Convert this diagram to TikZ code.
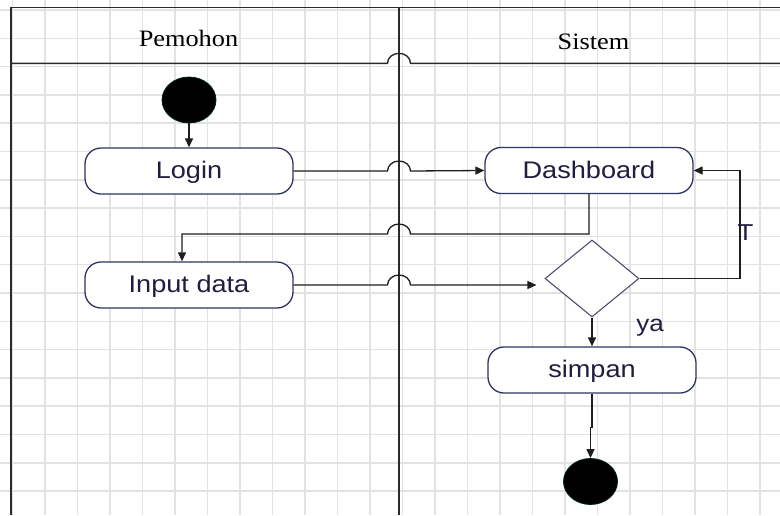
\documentclass[tikz,border=0pt]{standalone}
\usepackage{fontspec}
\setmainfont{Liberation Serif}
\newfontfamily\boxfont{Liberation Sans}[FakeStretch=1.13]
\newfontfamily\headfont{Liberation Serif}[FakeStretch=1.12]
\usetikzlibrary{arrows.meta,shapes.geometric}
\definecolor{gridc}{HTML}{E2E2E2}
\definecolor{framec}{HTML}{2A2A2A}
\definecolor{boxc}{HTML}{2E3563}
\definecolor{decc}{HTML}{4A5070}
\definecolor{linec}{HTML}{1E1E1E}
\definecolor{txtc}{HTML}{1E1E40}
\begin{document}
\begin{tikzpicture}[x=1pt,y=-1pt,
  frame/.style={draw=framec, line width=1.4pt},
  actbox/.style={draw=boxc, line width=1.3pt, rounded corners=16pt, minimum width=208pt,
    minimum height=46pt, inner sep=0pt, fill=white, text=txtc, text height=18pt, text depth=3pt,
    font=\boxfont\fontsize{24}{28}\selectfont},
  decbox/.style={shape=diamond, draw=decc, line width=1.1pt, fill=white,
    minimum width=94pt, minimum height=77pt, inner sep=0pt},
  blob/.style={shape=ellipse, fill=black, draw=black!75!teal, line width=0.8pt,
    minimum width=54pt, minimum height=46pt, inner sep=0pt},
  conn/.style={draw=linec, line width=1.3pt},
  arr/.style={conn, -{Triangle[length=9pt,width=8pt]}},
  headtxt/.style={inner sep=0pt, text=black, font=\headfont\fontsize{23.5}{28}\selectfont},
  lbl/.style={inner sep=0pt, text=txtc, font=\boxfont\fontsize{23}{27}\selectfont}]
\useasboundingbox (0,0) rectangle (780,515);
\fill[white] (0,0) rectangle (780,515);
% grid
\foreach \i in {0,...,23} \draw[gridc, line width=1.5pt] (12.5+32.5*\i,0) -- (12.5+32.5*\i,515);
\foreach \j in {0,...,17} \draw[gridc, line width=1.5pt] (0,10+28.3*\j) -- (780,10+28.3*\j);
% swimlane frame
\coordinate (hopL) at (387.5,0);
\coordinate (hopR) at (410.5,0);
\coordinate (tcor) at (740,0);
\coordinate (r1) at (0,234);
\draw[frame] (780,7.5) -- (11,7.5) -- (11,515);
\draw[frame] (399,7.5) -- (399,515);
\draw[frame] (11,63.3) -- (387.5,63.3) arc[start angle=180,end angle=0,x radius=11.5pt,y radius=10pt] -- (780,63.3);
\node[headtxt] (pem) at (188.5,38) {Pemohon};
\node[headtxt] (sis) at (593.5,42.3) {Sistem};
% nodes
\node[blob] (start) at (189,100) {};
\node[actbox] (login) at (189,171) {Login};
\node[actbox] (dash) at (589,170.5) {Dashboard};
\node[actbox] (input) at (189,285) {Input data};
\node[decbox] (dec) at (592,278.5) {};
\node[actbox] (simpan) at (592,370) {simpan};
\node[blob] (end) at (590.5,481.5) {};
% connectors
\draw[arr] (start) -- (login);
\draw[arr] (login.east) -- (hopL |- login.east) arc[start angle=180,end angle=0,x radius=11.5pt,y radius=10pt] -- (dash.west);
\draw[arr] (dash.south) |- (hopR |- r1) arc[start angle=0,end angle=180,x radius=11.5pt,y radius=10pt] -| ([xshift=-7pt]input.north);
\draw[arr, shorten >=8pt] (input.east) -- (hopL |- input.east) arc[start angle=180,end angle=0,x radius=11.5pt,y radius=10pt] -- (dec.west |- input.east);
\draw[arr] (dec.south) -- (simpan.north);
\draw[arr] (dec.east) -| (tcor |- dash.east) -- (dash.east);
\draw[arr] (simpan.south) -- ++(0,34) -| (end.north);
% labels
\node[lbl] (ya) at (650,328) {ya};
\node[lbl, anchor=west] (tl) at (737.5,233) {T};
\end{tikzpicture}
\end{document}
